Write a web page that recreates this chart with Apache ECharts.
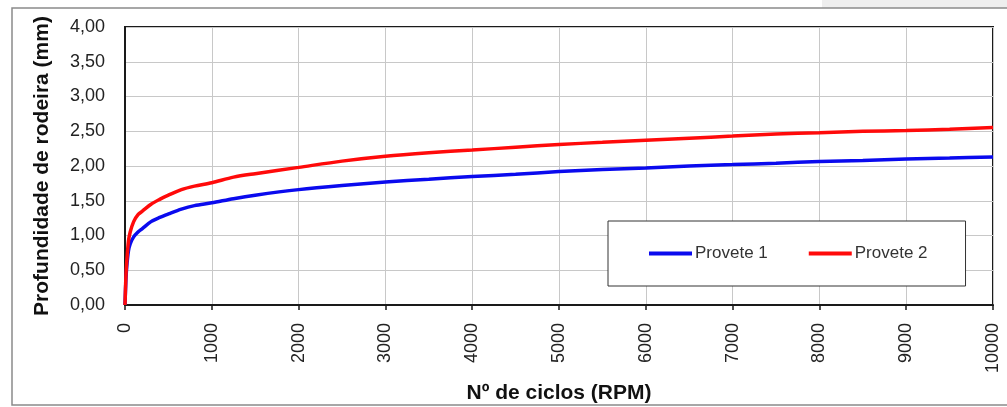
<!DOCTYPE html>
<html>
<head>
<meta charset="utf-8">
<script src="https://cdn.jsdelivr.net/npm/echarts@6/dist/echarts.min.js"></script>
<style>html,body{margin:0;padding:0;background:#fff}#c{width:1007px;height:407px}</style>
</head>
<body>
<div id="c"></div>
<script>
const cycles = [0,10,20,40,60,100,150,200,300,400,500,650,800,1000,1250,1500,2000,2500,3000,3500,4000,4500,5000,5500,6000,6500,7000,7500,8000,8500,9000,9500,10000];
const provete1 = [0,0.35,0.55,0.78,0.88,0.98,1.05,1.10,1.20,1.26,1.31,1.38,1.43,1.47,1.53,1.58,1.66,1.72,1.77,1.81,1.85,1.88,1.92,1.95,1.97,2.00,2.02,2.04,2.065,2.08,2.10,2.115,2.13];
const provete2 = [0,0.40,0.62,0.92,1.05,1.20,1.30,1.35,1.45,1.52,1.58,1.66,1.71,1.76,1.84,1.89,1.98,2.07,2.14,2.19,2.23,2.27,2.31,2.34,2.37,2.40,2.43,2.46,2.48,2.50,2.51,2.53,2.555];
const seriesNames = ['Provete 1','Provete 2'];
const xTitle = 'Nº de ciclos (RPM)';
const yTitle = 'Profundidade de rodeira (mm)';

const font = 'Liberation Sans, Arial, sans-serif';
const chart = echarts.init(document.getElementById('c'), null, {renderer:'canvas'});
const pair = (xs, ys) => xs.map((x,i)=>[x, ys[i]]);
chart.setOption({
  animation:false,
  backgroundColor:'#fff',
  graphic:[
    {type:'rect', shape:{x:822,y:0,width:190,height:8}, style:{fill:'#eeeeee'}, silent:true, z:-10},
    {type:'rect', shape:{x:12,y:8,width:1010,height:397}, style:{fill:'none', stroke:'#8a8a8a', lineWidth:1.5}, silent:true, z:-10}
  ],
  grid:{left:125, right:14, top:27, bottom:102, outerBoundsMode:'none', containLabel:false, show:true, borderColor:'#1a1a1a', borderWidth:2},
  legend:{
    left:608, top:221, orient:'horizontal',
    padding:[24,38,24,41],
    borderColor:'#333', borderWidth:1, backgroundColor:'#fff',
    itemWidth:43, itemHeight:4, itemGap:41, icon:'rect',
    textStyle:{fontFamily:font, fontSize:17, color:'#333', padding:[0,0,0,-2]},
    data:seriesNames
  },
  xAxis:{
    type:'value', min:0, max:10000, interval:1000,
    name:xTitle, nameLocation:'middle', nameGap:78,
    nameTextStyle:{fontFamily:font, fontSize:21, fontWeight:'bold', color:'#111'},
    axisLine:{lineStyle:{color:'#1a1a1a', width:2}},
    axisTick:{show:true, length:5, lineStyle:{color:'#1a1a1a', width:1.5}},
    axisLabel:{rotate:90, margin:18, fontFamily:font, fontSize:18, color:'#222', formatter:v=>String(v)},
    splitLine:{show:true, lineStyle:{color:'#c8c8c8', width:1}}
  },
  yAxis:{
    type:'value', min:0, max:4, interval:0.5,
    name:yTitle, nameLocation:'middle', nameGap:72,
    nameTextStyle:{fontFamily:font, fontSize:21, fontWeight:'bold', color:'#111'},
    axisLine:{show:true, lineStyle:{color:'#1a1a1a', width:2}},
    axisTick:{show:false},
    axisLabel:{margin:20, fontFamily:font, fontSize:18, color:'#222', formatter:v=>v.toFixed(2).replace('.',',')},
    splitLine:{show:true, lineStyle:{color:'#c8c8c8', width:1}}
  },
  series:[
    {name:seriesNames[0], type:'line', data:pair(cycles, provete1), symbol:'none', smooth:0.3, color:'#0a0aee', lineStyle:{width:3.5, color:'#0a0aee'}, z:3},
    {name:seriesNames[1], type:'line', data:pair(cycles, provete2), symbol:'none', smooth:0.3, color:'#ff0a0a', lineStyle:{width:3.5, color:'#ff0a0a'}, z:4}
  ]
});
</script>
</body>
</html>
